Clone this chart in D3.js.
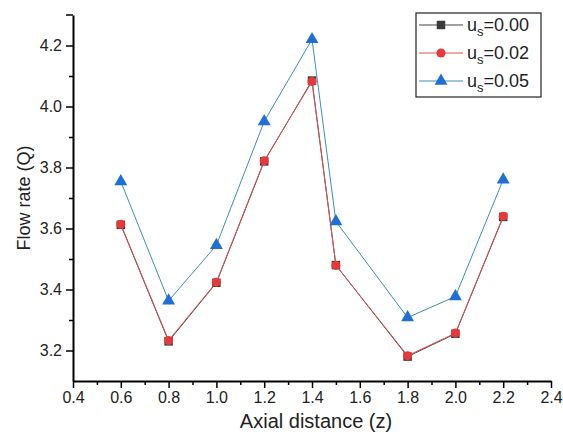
<!DOCTYPE html>
<html>
<head>
<meta charset="utf-8">
<script src="https://cdn.jsdelivr.net/npm/d3@7"></script>
<style>
  body { margin: 0; background: #fff; }
  svg { font-family: Arial, "Liberation Sans", sans-serif; }
</style>
</head>
<body>
<div id="chart"></div>
<script>
// data
const zValues = [0.6, 0.8, 1.0, 1.2, 1.4, 1.5, 1.8, 2.0, 2.2];
const q000 = [3.612, 3.230, 3.422, 3.820, 4.085, 3.480, 3.180, 3.255, 3.638];
const q002 = [3.614, 3.233, 3.424, 3.822, 4.082, 3.479, 3.183, 3.257, 3.640];
const q005 = [3.754, 3.363, 3.545, 3.951, 4.220, 3.623, 3.308, 3.377, 3.760];
const seriesNames = ["0.00", "0.02", "0.05"];
const xTicks = [0.4, 0.6, 0.8, 1.0, 1.2, 1.4, 1.6, 1.8, 2.0, 2.2, 2.4];
const yTicks = [3.2, 3.4, 3.6, 3.8, 4.0, 4.2];

function init() {
  const margin = { top: 15, right: 12, bottom: 57, left: 73 };
  const height = 438 - margin.top - margin.bottom;

  const svg = d3.select("#chart")
    .append("svg")
    .attr("width", 563)
    .attr("height", 438);

  const g = svg.append("g")
    .attr("transform", `translate(${margin.left},${margin.top})`);

  const x = d3.scaleLinear().domain([0.4, 2.4]).range([0, 478]);
  const y = d3.scaleLinear().domain([3.1, 4.3]).range([height, 0]);

  // minor ticks first
  g.append("g")
    .attr("transform", `translate(0,${height})`)
    .call(d3.axisBottom(x).tickValues(d3.range(0.5, 2.4, 0.2)).tickSize(4).tickFormat(""))
    .call(s => s.select(".domain").remove())
    .selectAll("line").attr("stroke-width", 1.5);
  g.append("g")
    .call(d3.axisLeft(y).tickValues(d3.range(3.3, 4.3, 0.2)).tickSize(4).tickFormat(""))
    .call(s => s.select(".domain").remove())
    .selectAll("line").attr("stroke-width", 1.5);

  // major axes
  const xAxis = g.append("g")
    .attr("transform", `translate(0,${height})`)
    .call(d3.axisBottom(x).tickValues(xTicks).tickSize(7).tickSizeOuter(0).tickFormat(d3.format(".1f")));
  xAxis.select(".domain").attr("stroke-width", 2);
  xAxis.selectAll("line").attr("stroke-width", 1.5);
  xAxis.selectAll("text").attr("font-size", 16).attr("fill", "#222").attr("y", 11);

  const yAxis = g.append("g")
    .call(d3.axisLeft(y).tickValues(yTicks).tickSize(7).tickSizeOuter(0).tickFormat(d3.format(".1f")));
  yAxis.select(".domain").attr("stroke-width", 2);
  yAxis.selectAll("line").attr("stroke-width", 1.5);
  yAxis.selectAll("text").attr("font-size", 16).attr("fill", "#222").attr("x", -11);

  // little end tick on top of y axis
  g.append("line").attr("x1", -7).attr("x2", 0).attr("y1", 0).attr("y2", 0)
    .attr("stroke", "#000").attr("stroke-width", 1.5);

  // axis titles
  svg.append("text")
    .attr("x", 316).attr("y", 428)
    .attr("text-anchor", "middle")
    .attr("font-size", 20)
    .attr("fill", "#222")
    .text("Axial distance (z)");

  svg.append("text")
    .attr("transform", "translate(30,198) rotate(-90)")
    .attr("text-anchor", "middle")
    .attr("font-size", 18)
    .attr("fill", "#222")
    .text("Flow rate (Q)");

  const series = [
    { vals: q000, line: "#444", fill: "#3a3a3a", shape: d3.symbolSquare, size: 72 },
    { vals: q002, line: "#e05050", fill: "#e8383a", shape: d3.symbolCircle, size: 64 },
    { vals: q005, line: "#3b8dbf", fill: "#1f6fd6", shape: d3.symbolTriangle, size: 72 }
  ];

  const line = d3.line()
    .x((d, i) => x(zValues[i]))
    .y(d => y(d));

  series.forEach(s => {
    g.append("path")
      .attr("d", line(s.vals))
      .attr("fill", "none")
      .attr("stroke", s.line)
      .attr("stroke-width", 1);
    g.selectAll(null)
      .data(s.vals)
      .enter()
      .append("path")
      .attr("d", d3.symbol().type(s.shape).size(s.size))
      .attr("transform", (d, i) => `translate(${x(zValues[i])},${y(d)})`)
      .attr("fill", s.fill);
  });

  // legend
  const leg = svg.append("g").attr("transform", "translate(416,13)");
  leg.append("rect")
    .attr("width", 125).attr("height", 84)
    .attr("fill", "#fff").attr("stroke", "#222").attr("stroke-width", 1.2);

  series.forEach((s, i) => {
    const cy = 12 + i * 28;
    leg.append("line")
      .attr("x1", 3).attr("x2", 47).attr("y1", cy).attr("y2", cy)
      .attr("stroke", s.line).attr("stroke-width", 1);
    leg.append("path")
      .attr("d", d3.symbol().type(s.shape).size(s.size))
      .attr("transform", `translate(25,${cy})`)
      .attr("fill", s.fill);
    const t = leg.append("text")
      .attr("x", 51).attr("y", cy + 6)
      .attr("font-size", 18)
      .attr("fill", "#222");
    t.append("tspan").text("u");
    t.append("tspan").attr("font-size", 13).attr("dy", 5).text("s");
    t.append("tspan").attr("dy", -5).text("=" + seriesNames[i]);
  });
}

window.onload = init;
</script>
</body>
</html>
